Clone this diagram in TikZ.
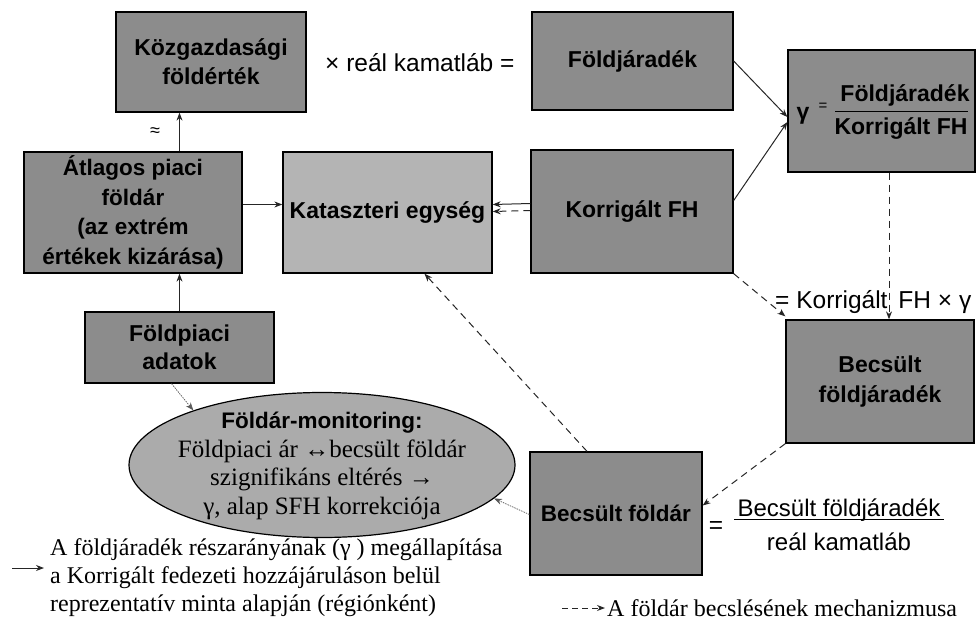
\documentclass[tikz,border=0pt]{standalone}
\usepackage{fontspec}
\setmainfont{Liberation Serif}
\setsansfont{Liberation Sans}
\usetikzlibrary{arrows.meta,shapes.geometric,calc}
\definecolor{boxdark}{HTML}{8C8C8C}
\definecolor{boxlight}{HTML}{B4B4B4}
\definecolor{ellfill}{HTML}{ABABAB}
\definecolor{linecol}{HTML}{262626}
\begin{document}
\begin{tikzpicture}[x=1pt,y=-1pt,
  box/.style={draw=black,line width=1.3pt,fill=boxdark,inner sep=0pt,
    font=\sffamily\bfseries\fontsize{23}{29}\selectfont,align=center},
  blbl/.style={font=\sffamily\bfseries\fontsize{23}{29}\selectfont,inner sep=0pt},
  lbl/.style={font=\sffamily\fontsize{24.5}{29}\selectfont,inner sep=0pt},
  sertext/.style={font=\fontsize{24}{28}\selectfont,inner sep=0pt},
  arr/.style={draw=linecol,line width=1pt,-{Stealth[length=8pt,width=6pt]}},
  darr/.style={arr,dash pattern=on 7pt off 5pt},
  farr/.style={draw=gray!70!black,line width=0.7pt,dash pattern=on 1.5pt off 1pt,-{Stealth[length=8pt,width=6pt]}}
]
\useasboundingbox (0,0) rectangle (977,621);
% boxes
\node[box,minimum width=190pt,minimum height=100pt] (kozg) at (211,62) {Közgazdasági\\földérték};
\node[box,minimum width=201pt,minimum height=98pt] (foldj) at (632.5,61) {Földjáradék};
\node[box,minimum width=187pt,minimum height=122pt] (gamma) at (881.5,111) {};
\node[box,minimum width=218pt,minimum height=121pt,font=\sffamily\bfseries\fontsize{22.5}{29.5}\selectfont] (atl) at (133,212.5) {Átlagos piaci\\földár\\(az extrém\\értékek kizárása)};
\node[box,fill=boxlight,minimum width=209pt,minimum height=121pt] (kat) at (387.5,212.5) {Kataszteri egység};
\node[box,minimum width=202pt,minimum height=123pt] (korr) at (632,211.5) {Korrigált FH};
\node[box,minimum width=189pt,minimum height=71pt,font=\sffamily\bfseries\fontsize{23}{28}\selectfont] (fpadat) at (179.5,347.5) {Földpiaci\\adatok};
\node[box,minimum width=188pt,minimum height=123pt,font=\sffamily\bfseries\fontsize{23}{30}\selectfont] (bfj) at (880,381.5) {Becsült\\földjáradék};
\node[box,minimum width=172pt,minimum height=123pt,font=\sffamily\bfseries\fontsize{22.5}{29}\selectfont] (bfd) at (616,513.5) {Becsült földár};
\node[draw=black,line width=1.2pt,fill=ellfill,ellipse,minimum width=386pt,minimum height=145pt,inner sep=0pt] (ell) at (322,465) {};
\node[align=center,inner sep=0pt,font=\fontsize{25}{28.5}\selectfont] (ellt) at (322,466)
  {{\sffamily\bfseries\fontsize{22.5}{28.5}\selectfont Földár-monitoring:}\\Földpiaci ár ↔becsült földár\\szignifikáns eltérés →\\γ, alap SFH korrekciója};
% gamma box content
\node[blbl] (gsym) at (803,116) {γ};
\node[blbl,font=\sffamily\fontsize{15}{15}\selectfont] (geq) at (823,107) {=};
\node[blbl] (gnum) at (905,95) {Földjáradék};
\node[blbl] (gden) at (901,129) {Korrigált FH};
\draw[line width=1pt] (835,111) coordinate (gl1) -- (968,111) coordinate (gl2);
% free texts
\node[lbl,anchor=west] (kamat) at (325,63) {× reál kamatláb =};
\node[lbl,font=\sffamily\fontsize{18}{18}\selectfont] (approx) at (155,132) {≈};
\node[lbl,anchor=west] (kfh) at (775,302) {= Korrigált\,  FH × γ};
\node[lbl] (eqb) at (716,527) {=};
\node[lbl,font=\sffamily\fontsize{24}{29}\selectfont] (bnum) at (839,510) {Becsült földjáradék};
\node[lbl,font=\sffamily\fontsize{24}{29}\selectfont] (bden) at (839,542) {reál kamatláb};
\draw[line width=1pt] ($(bnum.south west)+(-3,-2)$) -- ($(bnum.south east)+(3,-2)$);
% connectors
\draw[arr] (fpadat.north |- atl.north) -- (fpadat.north |- kozg.south);
\draw[arr] (fpadat.north) -- (fpadat.north |- atl.south);
\draw[arr] ([yshift=8pt]atl.east) -- ([yshift=8pt]kat.west);
\draw[arr] ([yshift=8pt]korr.west) -- ([yshift=8pt]kat.east);
\draw[darr] ([yshift=1pt]korr.west) -- ([yshift=1pt]kat.east);
\draw[arr] (foldj.east) -- ([yshift=-6pt]gamma.west);
\draw[arr] ([yshift=11pt]korr.east) -- ([yshift=-11pt]gamma.west);
\draw[darr] ([xshift=7.5pt]gamma.south) -- ([xshift=7.5pt]gamma.south |- bfj.north);
\draw[darr] (korr.south east) -- ([yshift=3pt]bfj.north west);
\draw[darr] (bfj.south west) -- ([yshift=8pt]bfd.east);
\draw[darr] ([xshift=-29pt]bfd.north) -- ([xshift=37pt]kat.south);
\draw[farr] ([yshift=-1pt]bfd.west) -- (ell.-11);
\draw[farr] ([xshift=-8pt]fpadat.south) -- (ell.157);
% legend
\coordinate (l1a) at (12,568);
\coordinate (l1b) at (44,568);
\draw[arr,line width=0.9pt] (l1a) -- (l1b);
\node[sertext,anchor=west,align=left] (leg1) at (50,578) {A földjáradék részarányának (γ ) megállapítása\\a Korrigált fedezeti hozzájáruláson belül\\reprezentatív minta alapján (régiónként)};
\coordinate (l2a) at (562,608);
\coordinate (l2b) at (605,608);
\draw[darr,dash pattern=on 6pt off 4pt] (l2a) -- (l2b);
\node[sertext,anchor=west] (leg2) at (607,608) {A földár becslésének mechanizmusa};
\end{tikzpicture}
\end{document}
